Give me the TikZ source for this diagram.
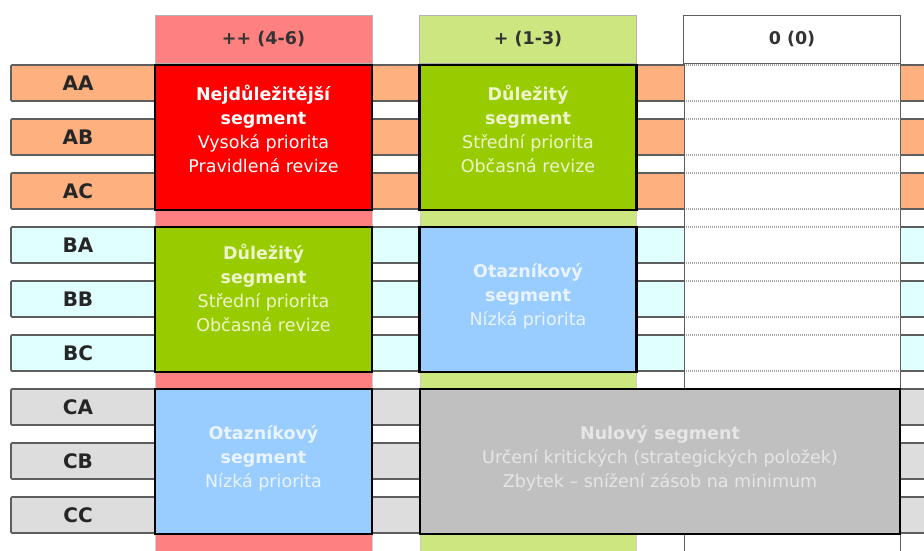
\documentclass[tikz,border=0pt]{standalone}
\usepackage{fontspec}
\setmainfont{DejaVu Sans}
\usetikzlibrary{positioning}
\definecolor{ColPink}{HTML}{FF8080}
\definecolor{ColGreen}{HTML}{CCE680}
\definecolor{SegRed}{HTML}{FF0000}
\definecolor{SegGreen}{HTML}{99CC00}
\definecolor{SegBlue}{HTML}{99CCFF}
\definecolor{SegGray}{HTML}{C0C0C0}
\definecolor{RowA}{HTML}{FFB07F}
\definecolor{RowB}{HTML}{E0FFFF}
\definecolor{RowC}{HTML}{DDDDDD}
\definecolor{RowLine}{HTML}{5E5E5E}
\definecolor{TxtGreen}{HTML}{EEF4CC}
\definecolor{TxtBlue}{HTML}{EAF4FF}
\definecolor{TxtGray}{HTML}{E6E6E6}

\begin{document}
\begin{tikzpicture}[x=1pt,y=-1pt,
    rowbar/.style={draw=RowLine,line width=1.6pt,rounded corners=1pt},
    rowlabel/.style={font=\fontsize{20}{22}\selectfont\bfseries,text=black!85},
    colbody/.style={draw=gray!40,line width=0.6pt},
    headbox/.style={draw=gray!60,line width=0.8pt,minimum width=217pt,minimum height=48pt,
      font=\fontsize{17.5}{20}\selectfont\bfseries,text=black!80},
    segbox/.style={draw=black,line width=2.8pt,align=center,minimum width=217pt,minimum height=145pt,
      font=\fontsize{17.5}{24}\selectfont},
    fourline/.style={text depth=18pt},
    threeline/.style={text depth=10pt},
    gridline/.style={draw=gray!70,line width=1.8pt,dash pattern=on 1pt off 1pt}
  ]
    \clip (0,0) rectangle (924,551);
    \fill[white] (0,0) rectangle (924,551);

    \foreach \name/\fc [count=\i from 0] in {AA/RowA,AB/RowA,AC/RowA,BA/RowB,BB/RowB,BC/RowB,CA/RowC,CB/RowC,CC/RowC}{
      \draw[rowbar,fill=\fc] (11,65+54*\i) rectangle (940,101+54*\i);
      \node[rowlabel] (\name) at (78,83+54*\i) {\name};
    }

    \draw[colbody,fill=ColPink] (155,15) rectangle (372,560);
    \draw[colbody,fill=ColGreen] (420,15) rectangle (636,560);
    \fill[white] (684,15) rectangle (900,560);
    \foreach \i in {0,...,8}{
      \draw[gridline] (684,65+54*\i) -- (900,65+54*\i);
      \draw[gridline] (684,101+54*\i) -- (900,101+54*\i);
    }
    \draw[RowLine,line width=1pt] (684,15) -- (684,560) (900,15) -- (900,560);

    \node[headbox,fill=ColPink] (hvys) at (263.5,39) {++ (4-6)};
    \node[headbox,fill=ColGreen] (hstr) at (528,39) {+ (1-3)};
    \node[headbox,fill=white,draw=RowLine] (hnul) at (792,39) {0 (0)};

    \node[segbox,fourline,fill=SegRed,text=white] (nejdul) at (263.5,137.5)
      {\textbf{Nejdůležitější}\\\textbf{segment}\\Vysoká priorita\\Pravidlená revize};
    \node[segbox,fourline,fill=SegGreen,text=TxtGreen] (dulA) at (528,137.5)
      {\textbf{Důležitý}\\\textbf{segment}\\Střední priorita\\Občasná revize};
    \node[segbox,fourline,fill=SegGreen,text=TxtGreen,text depth=24pt] (dulB) at (263.5,299.5)
      {\textbf{Důležitý}\\\textbf{segment}\\Střední priorita\\Občasná revize};
    \node[segbox,threeline,fill=SegBlue,text=TxtBlue] (otazB) at (528,299.5)
      {\textbf{Otazníkový}\\\textbf{segment}\\Nízká priorita};
    \node[segbox,threeline,fill=SegBlue,text=TxtBlue] (otazC) at (263.5,461.5)
      {\textbf{Otazníkový}\\\textbf{segment}\\Nízká priorita};
    \node[segbox,threeline,fill=SegGray,text=TxtGray,minimum width=480pt] (nulovy) at (660,461.5)
      {\textbf{Nulový segment}\\Určení kritických (strategických položek)\\Zbytek – snížení zásob na minimum};
  \end{tikzpicture}
\end{document}
